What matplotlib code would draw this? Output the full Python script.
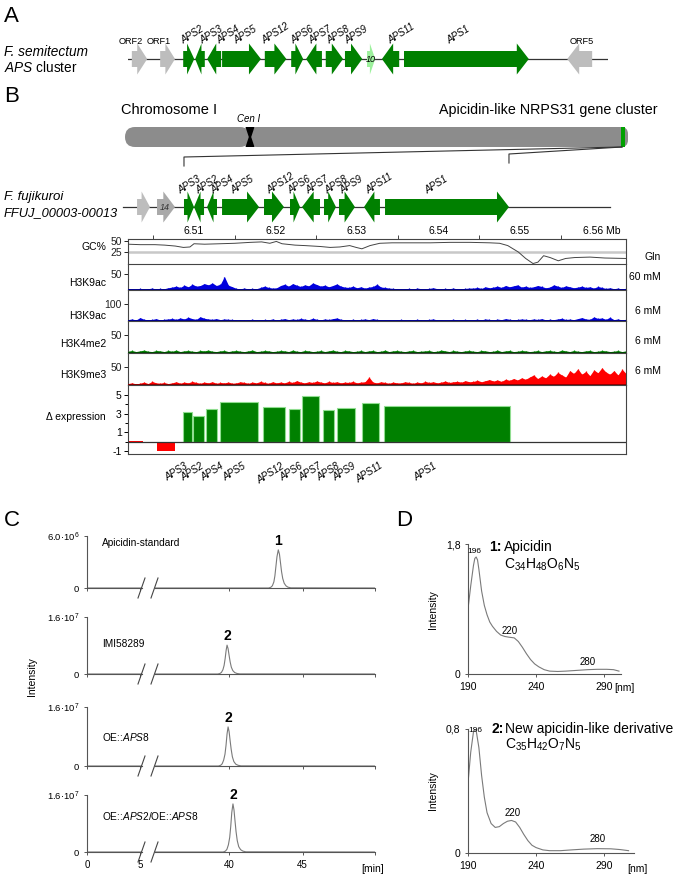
import numpy as np
import matplotlib
matplotlib.use('Agg')
import matplotlib.pyplot as plt
from matplotlib.patches import Polygon, FancyBboxPatch, Rectangle

plt.rcParams['font.family'] = ['Liberation Sans', 'DejaVu Sans']
plt.rcParams['mathtext.fontset'] = 'custom'
plt.rcParams['mathtext.rm'] = 'Liberation Sans'
plt.rcParams['mathtext.it'] = 'Liberation Sans:italic'
plt.rcParams['mathtext.bf'] = 'Liberation Sans:bold'

# ======================= DATA =======================
# Panel A: F. semitectum APS cluster (relative kb)
a_names = ['ORF2', 'ORF1', 'APS2', 'APS3', 'APS4', 'APS5', 'APS12', 'APS6', 'APS7',
           'APS8', 'APS9', '10', 'APS11', 'APS1', 'ORF5']
a_start = [0.8, 6.7, 11.5, 14.0, 16.5, 19.6, 28.5, 34.0, 37.1, 41.2, 45.2, 49.8, 52.9, 57.5, 91.5]
a_end = [4.0, 9.8, 13.8, 16.0, 19.4, 27.7, 33.0, 36.5, 40.4, 44.8, 48.8, 51.5, 56.5, 83.5, 96.7]
a_strand = [1, 1, 1, -1, -1, 1, 1, 1, -1, 1, 1, 1, -1, 1, -1]
a_type = ['other', 'other', 'aps', 'aps', 'aps', 'aps', 'aps', 'aps', 'aps',
          'aps', 'aps', 'aps10', 'aps', 'aps', 'other']
a_backbone = [0.0, 100.0]

# Panel B: F. fujikuroi cluster (Mb on chromosome I)
b_names = ['', '14', 'APS3', 'APS2', 'APS4', 'APS5', 'APS12', 'APS6', 'APS7',
           'APS8', 'APS9', 'APS11', 'APS1']
b_start = [6.50301, 6.50546, 6.50877, 6.51000, 6.51160, 6.51344, 6.51859, 6.52178,
           6.52325, 6.52595, 6.52779, 6.53086, 6.53344]
b_end = [6.50460, 6.50767, 6.51000, 6.51123, 6.51282, 6.51798, 6.52104, 6.52301,
         6.52546, 6.52742, 6.52975, 6.53282, 6.54865]
b_strand = [1, 1, 1, -1, -1, 1, 1, 1, -1, 1, 1, -1, 1]
b_type = ['other', 'other14', 'aps', 'aps', 'aps', 'aps', 'aps', 'aps', 'aps',
          'aps', 'aps', 'aps', 'aps']
b_backbone = [6.50129, 6.56104]
track_range = (6.50190, 6.56301)
mb_ticks = [6.51, 6.52, 6.53, 6.54, 6.55, 6.56]
mb_ticklabels = ['6.51', '6.52', '6.53', '6.54', '6.55', '6.56 Mb']

# GC content (%)
gc_pos = [6.5019, 6.5034, 6.5052, 6.5064, 6.5077, 6.5087, 6.5095, 6.5100, 6.5113, 6.5132,
          6.5150, 6.5169, 6.5183, 6.5193, 6.5201, 6.5208, 6.5224, 6.5236, 6.5255, 6.5267,
          6.5279, 6.5291, 6.5299, 6.5306, 6.5316, 6.5328, 6.5343, 6.5365, 6.5390, 6.5414,
          6.5439, 6.5463, 6.5475, 6.5485, 6.5498, 6.5507, 6.5516, 6.5522, 6.5529, 6.5537,
          6.5547, 6.5556, 6.5567, 6.5586, 6.5604, 6.5630]
gc_val = [43, 42, 42, 41, 39, 36, 37, 44, 43, 44,
          45, 47, 48, 45, 49, 44, 41, 40, 38, 36,
          37, 40, 36, 33, 40, 45, 46, 46, 46, 47,
          47, 46, 45, 40, 26, 12, 1, 4, 18, 14,
          7, 12, 14, 15, 13, 12]

# ChIP-seq coverage (evenly binned over track_range)
h3k9ac_60 = [3, 4, 2, 5, 3, 4, 6, 3, 5, 4, 7,
             9, 12, 8, 15, 10, 18, 12, 14, 20, 16, 22, 14, 18, 42, 15, 10,
             5, 4, 6, 3, 5, 4, 8,
             12, 8, 6, 7,
             14, 18, 12, 20, 15, 11, 16, 13, 22, 17, 12, 15, 10, 14, 19, 12, 9,
             8, 12, 7, 10, 6, 9, 11, 18, 9,
             8, 6, 5, 4,
             3, 4, 5, 3, 6, 4, 3, 5, 7, 4, 3, 5, 4, 6, 3, 4, 5, 6,
             6, 8, 5, 10, 7, 9, 12, 8, 14, 10, 13, 16, 9,
             12, 8, 10, 14, 11, 7, 9, 16, 12, 8, 13, 10, 7, 9, 12, 8, 10, 6, 11, 8,
             5, 7, 4, 6, 3, 5]
h3k9ac_6 = [8, 12, 6, 20, 10, 7, 9, 14, 6, 10, 12,
            15, 10, 18, 12, 22, 14, 10, 25, 16, 12, 10, 14, 8, 12, 10, 9,
            6, 8, 5, 7, 10, 6, 8,
            9, 7, 12, 6,
            10, 14, 8, 12, 9, 15, 11, 8, 16, 10, 7, 12, 9, 14, 18, 10, 8,
            7, 10, 6, 9, 12, 8, 14, 9, 7,
            6, 8, 5, 7,
            9, 6, 8, 5, 10, 7, 6, 9, 12, 6, 8, 5, 7, 10, 6, 8, 9, 7,
            8, 10, 7, 12, 9, 6, 11, 8, 14, 10, 7, 9, 12,
            10, 8, 12, 9, 14, 7, 10, 8, 12, 16, 9, 11, 8, 14, 20, 12, 10, 24, 15, 18,
            10, 22, 8, 12, 6, 9]
h3k4me2 = [5, 7, 4, 6, 8, 5, 4, 7, 6, 4, 7, 5, 8, 4, 6, 7, 5, 4, 7, 6, 8, 5, 4, 6, 7,
           4, 6, 7, 5, 4, 6, 8, 4, 5, 7, 6, 4, 5, 7, 6, 4, 8, 5, 4, 7, 6, 4, 5, 7, 4,
           6, 8, 5, 4, 7, 6, 4, 5, 7, 4, 6, 7, 4, 5, 8, 4, 6, 7, 5, 4, 6, 7, 4, 5, 6,
           7, 4, 5, 8, 6, 4, 7, 5, 4, 6, 7, 5, 4, 7, 6, 4, 5, 8, 4, 6, 7, 4, 5, 7, 6,
           4, 5, 7, 4, 6, 7, 5, 4, 8, 6, 4, 7, 5, 4, 6, 7, 4, 5, 7, 6, 4, 5, 7, 4, 6]
h3k9me3 = [4, 6, 3, 5, 8, 4, 10, 6, 5, 7, 4,
           6, 9, 5, 8, 6, 10, 7, 5, 8, 6, 9, 5, 7, 6, 8, 5,
           6, 9, 7, 5, 8, 6, 10,
           7, 5, 9, 6,
           8, 6, 10, 7, 12, 8, 6, 9, 7, 11, 8, 6, 10, 7, 9, 6, 8,
           7, 10, 6, 8, 9, 22, 8, 6, 9,
           7, 5, 8, 6,
           6, 9, 7, 5, 8, 6, 10, 7, 9, 6, 8, 11, 7, 9, 10, 8, 12, 9,
           10, 13, 9, 12, 15, 11, 14, 10, 16, 13, 18, 14, 20,
           16, 22, 28, 18, 25, 20, 30, 24, 35, 28, 22, 40, 32, 45, 30, 38, 26, 42, 34, 48,
           36, 30, 40, 28, 44, 32]

# Delta expression (log2 fold change)
expr_start = [6.50202, 6.50546, 6.50865, 6.50988, 6.51147, 6.51319, 6.51847, 6.52166,
              6.52325, 6.52583, 6.52755, 6.53061, 6.53331]
expr_end = [6.50374, 6.50767, 6.50975, 6.51123, 6.51282, 6.51785, 6.52117, 6.52301,
            6.52534, 6.52718, 6.52975, 6.53270, 6.54877]
expr_val = [0.10, -0.93, 3.2, 2.75, 3.5, 4.3, 3.75, 3.5, 4.9, 3.35, 3.65, 4.1, 3.8]
expr_names = ['', '', 'APS3', 'APS2', 'APS4', 'APS5', 'APS12', 'APS6', 'APS7',
              'APS8', 'APS9', 'APS11', 'APS1']

# Panel C: HPLC chromatograms (time in min, intensity)
chrom_labels = ['Apicidin-standard', 'IMI58289', r'OE::$\mathit{APS8}$',
                r'OE::$\mathit{APS2}$/OE::$\mathit{APS8}$']
chrom_ymax = [6.0e6, 1.6e7, 1.6e7, 1.6e7]
chrom_ymax_label = [r'6.0·10$^{6}$', r'1.6·10$^{7}$', r'1.6·10$^{7}$', r'1.6·10$^{7}$']
chrom_peak_label = ['1', '2', '2', '2']
chrom_t = [
    [0, 42.70, 42.85, 42.95, 43.05, 43.12, 43.19, 43.26, 43.35, 43.43, 43.50, 43.57, 43.65, 43.75, 43.87, 44.0, 44.2, 49.9],
    [0, 39.25, 39.40, 39.50, 39.60, 39.68, 39.75, 39.82, 39.88, 39.95, 40.02, 40.09, 40.17, 40.27, 40.40, 40.55, 40.75, 49.9],
    [0, 39.30, 39.45, 39.55, 39.65, 39.74, 39.81, 39.88, 39.95, 40.02, 40.09, 40.16, 40.24, 40.34, 40.47, 40.62, 40.82, 49.9],
    [0, 39.62, 39.77, 39.87, 39.97, 40.06, 40.13, 40.20, 40.28, 40.35, 40.42, 40.49, 40.57, 40.67, 40.80, 40.95, 41.15, 49.9],
]
chrom_i = [  # x 1e6
    [0, 0, 0.09, 0.26, 0.70, 1.4, 2.5, 3.6, 4.4, 3.9, 2.9, 1.9, 1.1, 0.55, 0.25, 0.1, 0.02, 0],
    [0, 0, 0.15, 0.45, 1.2, 2.4, 4.3, 6.7, 8.1, 7.1, 5.2, 3.4, 1.9, 0.95, 0.4, 0.15, 0.03, 0],
    [0, 0, 0.2, 0.6, 1.6, 3.2, 5.6, 8.7, 10.6, 9.3, 6.8, 4.5, 2.5, 1.2, 0.5, 0.2, 0.04, 0],
    [0, 0, 0.25, 0.75, 2.0, 4.1, 7.2, 11.1, 13.5, 11.8, 8.7, 5.7, 3.2, 1.5, 0.65, 0.25, 0.05, 0],
]

# Panel D: UV spectra
uv1_nm = [190, 192, 194, 195, 196, 197, 198, 200, 202, 204, 206, 208, 211, 214, 217, 220,
          224, 227, 230, 233, 236, 239, 242, 246, 250, 256, 262, 270, 278, 285, 292, 297, 301]
uv1_i = [0.90, 1.22, 1.50, 1.60, 1.62, 1.58, 1.45, 1.15, 0.95, 0.82, 0.72, 0.66, 0.59, 0.54,
         0.52, 0.51, 0.50, 0.45, 0.37, 0.28, 0.20, 0.14, 0.10, 0.06, 0.04, 0.035, 0.04, 0.05,
         0.06, 0.065, 0.065, 0.06, 0.04]
uv2_nm = [190, 192, 194, 195, 196, 198, 200, 202, 204, 207, 210, 213, 216, 219, 222, 225,
          228, 231, 234, 237, 240, 245, 250, 258, 266, 275, 285, 295, 302, 308]
uv2_i = [0.45, 0.65, 0.78, 0.80, 0.79, 0.68, 0.50, 0.36, 0.26, 0.19, 0.165, 0.17, 0.19,
         0.205, 0.21, 0.20, 0.165, 0.12, 0.08, 0.05, 0.035, 0.02, 0.015, 0.015, 0.02, 0.025,
         0.028, 0.027, 0.022, 0.015]

# ======================= LAYOUT =======================
W, H = 678, 876
fig = plt.figure(figsize=(W / 100, H / 100), dpi=100)


def add_ax(x0, y0, x1, y1, **kw):
    return fig.add_axes([x0 / W, 1 - y1 / H, (x1 - x0) / W, (y1 - y0) / H], **kw)


GREEN = '#008000'
GRAY_GENE = '#bdbdbd'
DARK = '#333333'


def gene_poly(s, e, strand, hl, body=8.0, head=15.5):
    h = min(hl, 0.65 * (e - s))
    if strand > 0:
        pts = [(s, -body), (e - h, -body), (e - h, -head), (e, 0), (e - h, head), (e - h, body), (s, body)]
    else:
        pts = [(e, -body), (s + h, -body), (s + h, -head), (s, 0), (s + h, head), (s + h, body), (e, body)]
    return pts


def gene_color(t):
    return {'aps': GREEN, 'aps10': '#9cf09c', 'other': GRAY_GENE, 'other14': '#a9a9a9'}[t]


# ---------- Panel A ----------
axA = add_ax(128, 40, 608, 78)
axA.set_xlim(a_backbone)
axA.set_ylim(19, -19)
axA.axis('off')
pxA = 480 / (a_backbone[1] - a_backbone[0])
axA.plot(a_backbone, [0, 0], color=DARK, lw=0.9, zorder=1)
for s, e, st, t in zip(a_start, a_end, a_strand, a_type):
    axA.add_patch(Polygon(gene_poly(s, e, st, 12 / pxA), closed=True, fc=gene_color(t), ec='none', zorder=2))
a_label_x = [0.6, 6.4, 11.7, 15.7, 19.2, 22.9, 28.75, 34.6, 38.5, 42.3, 46.0, 50.6, 55.0, 67.1, 94.6]
for nm, lx, t in zip(a_names, a_label_x, a_type):
    if t == 'other':
        axA.text(lx, -17, nm, ha='center', va='center', fontsize=6.6, clip_on=False)
    elif t == 'aps10':
        axA.text(lx, 0, nm, ha='center', va='center', fontsize=6.5, style='italic', zorder=3)
    else:
        axA.text(lx, -13, nm, ha='left', va='bottom', fontsize=7, style='italic', rotation=32,
                 rotation_mode='anchor', clip_on=False)

# ---------- Panel B gene track ----------
BX0, BX1 = 128, 626
pxB = (BX1 - BX0) / (track_range[1] - track_range[0])


def bpx(mb):
    return BX0 + (mb - track_range[0]) * pxB


axB = add_ax(BX0, 188, BX1, 226)
axB.set_xlim(track_range)
axB.set_ylim(19, -19)
axB.axis('off')
axB.plot(b_backbone, [0, 0], color=DARK, lw=0.9, zorder=1, clip_on=False)
for s, e, st, t in zip(b_start, b_end, b_strand, b_type):
    axB.add_patch(Polygon(gene_poly(s, e, st, 12 / pxB), closed=True, fc=gene_color(t), ec='none',
                          zorder=2, clip_on=False))
b_label_x = [None, None, 6.50853, 6.51074, 6.51258, 6.51503, 6.51945, 6.52202, 6.52423,
             6.52656, 6.52840, 6.53160, 6.53883]
for nm, lx, s, e, t in zip(b_names, b_label_x, b_start, b_end, b_type):
    if t == 'other14':
        axB.text((s + e) / 2 - 1.5 / pxB, 0, nm, ha='center', va='center', fontsize=6.5,
                 style='italic', zorder=3, color='#333333')
    elif t == 'aps':
        axB.text(lx, -11, nm, ha='left', va='bottom', fontsize=7, style='italic', rotation=32,
                 rotation_mode='anchor', clip_on=False)


# ---------- tracks ----------
def style_track(ax, ymax, ticks):
    ax.set_xlim(track_range)
    ax.set_ylim(0, ymax)
    ax.set_yticks(ticks)
    ax.set_yticklabels([str(t) for t in ticks])
    ax.tick_params(axis='y', length=3, width=0.7, pad=1.5, labelsize=7.5, colors='#222222')
    ax.set_xticks([])
    ax.spines['top'].set_visible(False)
    for sp in ['left', 'right', 'bottom']:
        ax.spines[sp].set_linewidth(0.8)
        ax.spines[sp].set_color('#444444')
    ax.patch.set_alpha(0)


axGC = add_ax(BX0, 239, BX1, 264)
style_track(axGC, 54.3, [25, 50])
axGC.spines['top'].set_visible(True)
axGC.spines['top'].set_linewidth(0.8)
axGC.spines['top'].set_color('#444444')
axGC.axhline(25, color='#c8c8c8', lw=1.8, zorder=1)
axGC.plot(gc_pos, gc_val, color='#444444', lw=0.7, zorder=2)
axGC.xaxis.tick_top()
axGC.set_xticks(mb_ticks)
axGC.set_xticklabels(mb_ticklabels)
axGC.set_xticks([t - 0.005 for t in mb_ticks], minor=True)
axGC.tick_params(axis='x', which='major', length=0, pad=2.5, labelsize=7.5)
axGC.tick_params(axis='x', which='minor', length=3, width=0.7, direction='out', color='#444444')

tracks = [
    (h3k9ac_60, 264, 290, 81, [50], '#0000dd', '#00008b'),
    (h3k9ac_6, 290, 321, 182, [100], '#0000dd', '#00008b'),
    (h3k4me2, 321, 353, 89, [50], '#008000', '#004d00'),
    (h3k9me3, 353, 385, 89, [50], '#ff0000', '#8b0000'),
]
for vals, y0, y1, ymax, ticks, col, base in tracks:
    ax = add_ax(BX0, y0, BX1, y1)
    style_track(ax, ymax, ticks)
    x = np.linspace(track_range[0], track_range[1], len(vals))
    ax.fill_between(x, 0, vals, color=col, lw=0, zorder=2)
    ax.vlines(x, 0, vals, color=col, lw=0.9, zorder=2)
    ax.axhline(0, color=base, lw=1.4, zorder=3)

# expression
axE = add_ax(BX0, 385, BX1, 454)
axE.set_xlim(track_range)
axE.set_ylim(-1.3, 6.06)
axE.set_xticks([])
axE.set_yticks([-1, 1, 3, 5])
axE.set_yticklabels(['-1', '1', '3', '5'])
axE.set_yticks([0, 2, 4], minor=True)
axE.tick_params(axis='y', which='major', length=3, width=0.7, pad=1.5, labelsize=7.5)
axE.tick_params(axis='y', which='minor', length=2, width=0.7)
axE.spines['top'].set_visible(False)
for sp in ['left', 'right', 'bottom']:
    axE.spines[sp].set_linewidth(0.8)
    axE.spines[sp].set_color('#444444')
axE.patch.set_alpha(0)
ecol = ['#ff0000' if v < 0 or n == '' else GREEN for v, n in zip(expr_val, expr_names)]
edges = ['none' if c == '#ff0000' else '#90dd90' for c in ecol]
axE.bar(expr_start, expr_val, width=np.array(expr_end) - np.array(expr_start), align='edge',
        color=ecol, edgecolor=edges, lw=0.8, zorder=2)
axE.axhline(0, color='#333333', lw=0.9, zorder=3)
e_label_x = [None, None, 6.50877, 6.51074, 6.51319, 6.51589, 6.52067, 6.52288, 6.52521,
             6.52742, 6.52939, 6.53270, 6.53933]
for nm, lx in zip(expr_names, e_label_x):
    if nm:
        axE.text(lx, -2.05, nm, ha='right', va='top', fontsize=7, style='italic', rotation=32,
                 rotation_mode='anchor', clip_on=False)

# ---------- Panel C ----------
rows = [(536, 588), (617, 674), (707, 766), (795, 852)]
TR = '#7a7a7a'
for k, (top, base) in enumerate(rows):
    t = chrom_t[k]
    iv = np.array(chrom_i[k]) * 1e6
    axL = add_ax(87, top, 142, base)
    axR = add_ax(155, top, 375, base)
    for ax in (axL, axR):
        ax.plot(t, iv, color=TR, lw=0.8)
        ax.set_ylim(0, chrom_ymax[k])
        ax.patch.set_alpha(0)
        for sp in ['top', 'right']:
            ax.spines[sp].set_visible(False)
        for sp in ['left', 'bottom']:
            ax.spines[sp].set_linewidth(0.8)
            ax.spines[sp].set_color('#555555')
        ax.tick_params(length=2.5, width=0.7, color='#555555', labelsize=7, pad=3)
    axL.set_xlim(0, 5.2)
    axR.set_xlim(35.0, 49.9)
    axR.spines['left'].set_visible(False)
    axR.set_yticks([])
    axL.set_yticks([0, chrom_ymax[k]])
    axL.set_yticklabels(['0', chrom_ymax_label[k]])
    axL.tick_params(axis='y', labelsize=6.8)
    axL.set_xticks([0, 5])
    axR.set_xticks([40, 45, 49.9])
    if k == len(rows) - 1:
        axL.set_xticklabels(['0', '5'])
        axR.set_xticklabels(['40', '45', ''])
    else:
        axL.set_xticklabels([])
        axR.set_xticklabels([])
    ip = int(np.argmax(iv))
    axR.annotate(chrom_peak_label[k], (t[ip], iv[ip]), xytext=(0, 1.5), textcoords='offset points',
                 ha='center', va='bottom', fontsize=10, fontweight='bold', annotation_clip=False)

# ---------- Panel D ----------
axD1 = add_ax(468, 544, 621, 674)
axD2 = add_ax(468, 729, 634, 853)
for ax, nm, iv, xmax, ymax, ylab in [(axD1, uv1_nm, uv1_i, 302.5, 1.8, '1,8'),
                                     (axD2, uv2_nm, uv2_i, 312, 0.8, '0,8')]:
    ax.plot(nm, iv, color=TR, lw=0.8)
    ax.set_xlim(190, xmax)
    ax.set_ylim(0, ymax)
    ax.patch.set_alpha(0)
    for sp in ['top', 'right']:
        ax.spines[sp].set_visible(False)
    for sp in ['left', 'bottom']:
        ax.spines[sp].set_linewidth(0.8)
        ax.spines[sp].set_color('#555555')
    ax.set_xticks([190, 240, 290])
    ax.set_xticklabels(['190', '240', '290'])
    ax.set_yticks([0, ymax])
    ax.set_yticklabels(['0', ylab])
    ax.tick_params(length=2.5, width=0.7, color='#555555', labelsize=7.5, pad=3)

axD1.text(194.4, 1.69, '196', ha='center', va='center', fontsize=6)
axD1.text(220.9, 0.595, '220', ha='center', va='center', fontsize=7)
axD1.text(278.0, 0.166, '280', ha='center', va='center', fontsize=7)
axD2.text(195.5, 0.79, '196', ha='center', va='center', fontsize=6, clip_on=False)
axD2.text(223.0, 0.26, '220', ha='center', va='center', fontsize=7)
axD2.text(285.6, 0.09, '280', ha='center', va='center', fontsize=7)

# ---------- overlay (text & schematic) ----------
ov = fig.add_axes([0, 0, 1, 1], zorder=10)
ov.set_xlim(0, W)
ov.set_ylim(H, 0)
ov.axis('off')

for lab, x, y in [('A', 4, 16), ('B', 4, 96), ('C', 4, 521), ('D', 396, 521)]:
    ov.text(x, y, lab, fontsize=16, ha='left', va='center')

ov.text(4, 52, 'F. semitectum', style='italic', fontsize=9.8, va='center')
ov.text(4, 68, r'$\mathit{APS}$ cluster', fontsize=9.8, va='center')
ov.text(4, 197, 'F. fujikuroi', style='italic', fontsize=9.5, va='center')
ov.text(4, 213, 'FFUJ_00003-00013', style='italic', fontsize=9.3, va='center')

# chromosome schematic
ov.text(121, 110, 'Chromosome I', fontsize=10.5, va='center', ha='left')
ov.text(658, 110, 'Apicidin-like NRPS31 gene cluster', fontsize=10.3, va='center', ha='right')
ov.text(249, 119, 'Cen I', fontsize=7, style='italic', ha='center', va='center')
CHR = '#8c8c8c'
ov.add_patch(FancyBboxPatch((125, 127), 125, 20, boxstyle='round,pad=0,rounding_size=10', fc=CHR, ec='none'))
ov.add_patch(FancyBboxPatch((250, 127), 378, 20, boxstyle='round,pad=0,rounding_size=7', fc=CHR, ec='none'))
ov.add_patch(Polygon([(245.5, 127), (254.5, 127), (251.2, 137), (254.5, 147), (245.5, 147), (248.8, 137)],
                     closed=True, fc='black', ec='none'))
ov.add_patch(Rectangle((621, 127), 4, 20, fc='#00a000', ec='none'))
cl_x0 = bpx(b_start[2])
cl_x1 = bpx(b_end[-1])
ov.plot([cl_x0, cl_x0, 622], [166, 157, 147], color='#333333', lw=0.8)
ov.plot([cl_x1, cl_x1, 622], [163, 154, 147], color='#333333', lw=0.8)

# track labels
for txt, y in [('GC%', 247), ('H3K9ac', 283), ('H3K9ac', 316), ('H3K4me2', 344),
               ('H3K9me3', 375), ('Δ expression', 417)]:
    ov.text(106, y, txt, fontsize=7.5, ha='right', va='center')
for txt, y in [('Gln', 257), ('60 mM', 277), ('6 mM', 311), ('6 mM', 341), ('6 mM', 371)]:
    ov.text(661, y, txt, fontsize=7.5, ha='right', va='center')

# panel C labels
for (top, base), lab, y in zip(rows, chrom_labels, [543, 644, 737, 816]):
    ov.text(102, y, lab, fontsize=7.3, ha='left', va='center')
    for dx in (0, 13):
        ov.plot([138 + dx, 145 + dx], [base + 10, base - 10], color='#444444', lw=0.8)
ov.text(32, 677, 'Intensity', rotation=90, fontsize=7.5, ha='center', va='center')
ov.text(373, 869, '[min]', fontsize=7.5, ha='center', va='center')

# panel D labels
ov.text(433, 610, 'Intensity', rotation=90, fontsize=7.5, ha='center', va='center')
ov.text(433, 791, 'Intensity', rotation=90, fontsize=7.5, ha='center', va='center')
ov.text(624, 688, '[nm]', fontsize=7.5, ha='center', va='center')
ov.text(637, 869, '[nm]', fontsize=7.5, ha='center', va='center')
ov.text(489, 547, '1:', fontsize=10, fontweight='bold', ha='left', va='center')
ov.text(504, 547, 'Apicidin', fontsize=10, ha='left', va='center')
ov.text(504, 565, r'C$_{34}$H$_{48}$O$_{6}$N$_{5}$', fontsize=10, ha='left', va='center')
ov.text(491, 729, '2:', fontsize=10, fontweight='bold', ha='left', va='center')
ov.text(505, 729, 'New apicidin-like derivative', fontsize=10, ha='left', va='center')
ov.text(505, 745, r'C$_{35}$H$_{42}$O$_{7}$N$_{5}$', fontsize=10, ha='left', va='center')

fig.savefig('out.png', dpi=100)
